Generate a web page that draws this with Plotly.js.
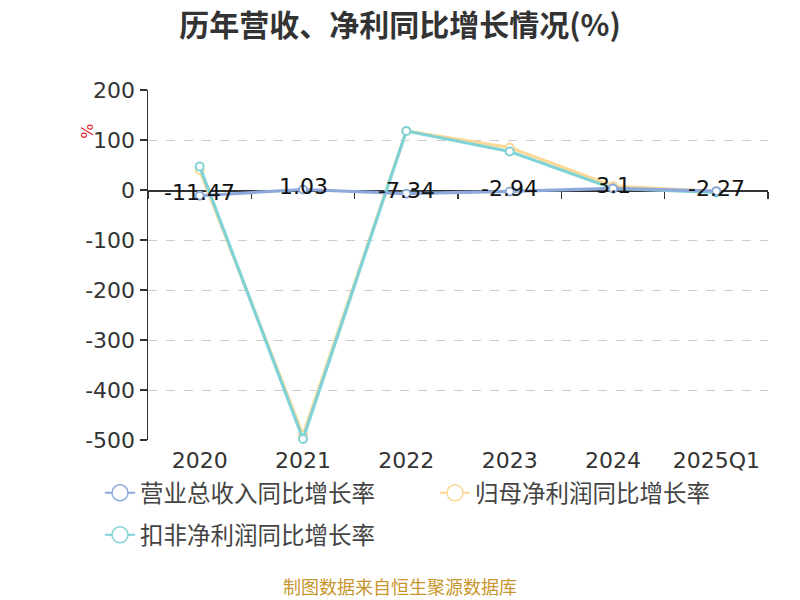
<!DOCTYPE html>
<html><head><meta charset="utf-8">
<script src="https://cdn.plot.ly/plotly-3.0.1.min.js"></script>
<style>body{margin:0;}#chart{width:800px;height:600px;}</style>
</head><body><div id="chart"></div>
<script>
const categories = ["2020","2021","2022","2023","2024","2025Q1"];
const revenueGrowth = [-11.47, 1.03, -7.34, -2.94, 3.1, -2.27];
const netProfitGrowth = [40, -490, 118, 85, 8, -3];
const deductedProfitGrowth = [47, -498, 118, 77, 3, -5];
const seriesNames = ["营业总收入同比增长率","归母净利润同比增长率","扣非净利润同比增长率"];
const yTickValues = [-500,-400,-300,-200,-100,0,100,200];
const yTickLabels = ["-500","-400","-300","-200","-100","0","100","200"];
const colors = ["#8eaadb","#fdd795","#7fd3d6"];
const FONT = '"DejaVu Sans", "Noto Sans CJK SC", sans-serif';
const CJK = '"Noto Sans CJK SC", "DejaVu Sans", sans-serif';

function line(y, i){
  return {x: categories, y: y, type:'scatter', mode:'lines+markers', name: seriesNames[i],
    showlegend:false, cliponaxis:false,
    line:{color:colors[i], width:3.2},
    marker:{symbol:'circle', size:8, color:'#fff', line:{color:colors[i], width:2}}};
}
function legendItem(i, lg){
  return {x:[null], y:[null], type:'scatter', mode:'lines+markers', name: seriesNames[i], legend: lg,
    line:{color:colors[i], width:2},
    marker:{symbol:'circle', size:16, color:'#fff', line:{color:colors[i], width:1.5}}};
}
const traces = [
  line(netProfitGrowth,1), line(deductedProfitGrowth,2), line(revenueGrowth,0),
  legendItem(0,'legend'), legendItem(1,'legend'), legendItem(2,'legend2')
];
const annotations = categories.map((c,i)=>({x:i, y:revenueGrowth[i], xref:'x', yref:'y',
  text:String(revenueGrowth[i]), showarrow:false, yshift:3,
  font:{family:FONT, size:22, color:'#111'}}));
annotations.push({text:'%', xref:'paper', yref:'paper', x:-0.097, xanchor:'center', y:0.883, yanchor:'middle', showarrow:false,
  textangle:-90, font:{family:FONT, size:16, color:'#e8202a'}});
annotations.push({text:'制图数据来自恒生聚源数据库', xref:'paper', yref:'paper', x:(400-148)/620, xanchor:'center',
  y:(440-586)/350, yanchor:'middle', showarrow:false, font:{family:CJK, size:18, color:'#c8962e'}});

const boundaries = categories.map((_,i)=>i-0.5).concat([categories.length-0.5]);
const legendCommon = {orientation:'h', xanchor:'left', yanchor:'middle', bgcolor:'rgba(0,0,0,0)',
    entrywidth:290, entrywidthmode:'pixels', font:{family:CJK, size:23.5, color:'#444'}};
const layout = {
  width:800, height:600, paper_bgcolor:'#fff', plot_bgcolor:'#fff',
  margin:{l:148, r:32, t:90, b:160},
  font:{family:FONT, color:'#333'},
  title:{text:'<b>历年营收、净利同比增长情况(%)</b>', x:0.5, xanchor:'center', y:1-25/600, yanchor:'middle',
    font:{family:CJK, size:30, color:'#333'}},
  xaxis:{type:'category', categoryarray:categories, range:[-0.5,5.5], showline:false, ticks:'',
    showgrid:false, zeroline:false, ticklabelstandoff:5, tickfont:{family:FONT, size:22, color:'#333'}},
  xaxis2:{overlaying:'x', anchor:'free', position:5/7, type:'linear', range:[-0.5,5.5], layer:'below traces',
    tickvals:boundaries, ticks:'outside', ticklen:7, tickcolor:'#333', tickwidth:1.5,
    showticklabels:false, showline:true, linecolor:'#333', linewidth:1.5, showgrid:false, zeroline:false},
  yaxis:{range:[-500,200], tickmode:'array', tickvals:yTickValues, ticktext:yTickLabels,
    showline:true, linecolor:'#333', linewidth:1.5, layer:'below traces',
    ticks:'outside', ticklen:7, tickcolor:'#333', tickwidth:1.5, zeroline:false,
    showgrid:true, gridcolor:'#cccccc', griddash:'dash', gridwidth:1,
    tickfont:{family:FONT, size:22, color:'#333'}},
  legend:Object.assign({x:(100-148)/620, y:(440-493)/350}, legendCommon),
  legend2:Object.assign({x:(100-148)/620, y:(440-535)/350}, legendCommon),
  annotations: annotations
};
traces.push({x:[0], y:[null], xaxis:'x2', yaxis:'y', type:'scatter', mode:'lines', showlegend:false, hoverinfo:'skip'});
Plotly.newPlot('chart', traces, layout, {displayModeBar:false, staticPlot:true});
</script></body></html>
